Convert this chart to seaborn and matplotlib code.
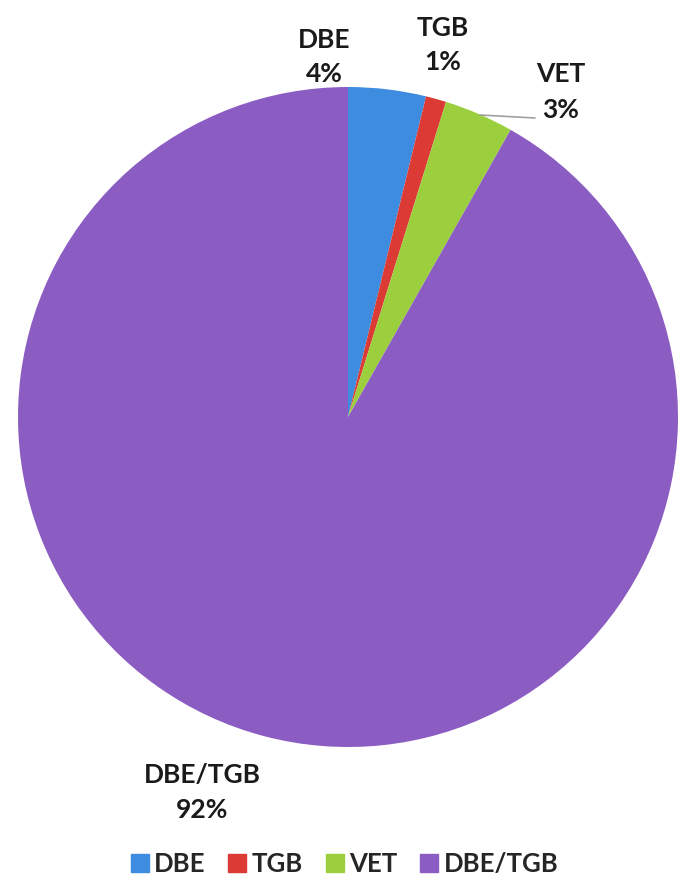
import matplotlib
matplotlib.use("Agg")
import matplotlib.pyplot as plt
import seaborn as sns

# data
categories = ["DBE", "TGB", "VET", "DBE/TGB"]
shares = [3.8, 1.0, 3.4, 91.8]
shown_pct = ["4%", "1%", "3%", "92%"]
colors = ["#3d8ce0", "#dc3a35", "#9bcf3d", "#8b5cc2"]

sns.set_theme(style="white")
plt.rcParams["font.family"] = ["Lato", "DejaVu Sans"]

fig = plt.figure(figsize=(6.78, 8.81), dpi=100)
# pie centre ~ (348, 417) px, radius ~330 px
ax = fig.add_axes([18 / 678, (881 - 747) / 881, 660 / 678, 660 / 881])

wedges, _ = ax.pie(shares, colors=colors, startangle=90, counterclock=False,
                   radius=1.0, wedgeprops=dict(edgecolor="none"))
ax.set_xlim(-1, 1)
ax.set_ylim(-1, 1)
ax.set_aspect("equal")
ax.axis("off")

# data labels (pixel positions converted to data units)
def px(x, y):
    return (x - 348) / 330, (417 - y) / 330

label_pos = [px(324, 57), px(443, 45), px(561, 92), px(202, 792)]
for name, pct, (lx, ly) in zip(categories, shown_pct, label_pos):
    ax.text(lx, ly, f"{name}\n{pct}", ha="center", va="center",
            fontsize=19, fontweight="bold", color="#1a1a1a",
            linespacing=1.55, clip_on=False)

# leader line for VET
x0, y0 = px(480, 115)
x1, y1 = px(535, 118)
ax.plot([x0, x1], [y0, y1], color="#a0a0a0", lw=1.2, clip_on=False)

handles = [plt.Rectangle((0, 0), 1, 1, color=c) for c in colors]
fig.legend(handles, categories, loc="center", bbox_to_anchor=(0.508, 1 - 864 / 881),
           ncol=4, frameon=False, handlelength=0.7, handleheight=0.7,
           handletextpad=0.2, columnspacing=0.9,
           prop=dict(weight="bold", size=18.5))

fig.savefig("out.png", dpi=100)
